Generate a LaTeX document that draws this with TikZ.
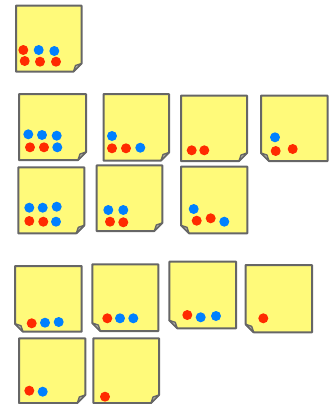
\documentclass[tikz,border=0pt]{standalone}
\definecolor{noteyellow}{HTML}{FFFA7A}
\definecolor{noteborder}{HTML}{666666}
\definecolor{foldgray}{HTML}{B4B4A8}
\definecolor{dotred}{HTML}{FF2A00}
\definecolor{dotblue}{HTML}{0080FF}
\tikzset{
  notebody/.style={fill=noteyellow, draw=noteborder, line width=1.5pt, line join=round},
  notefold/.style={fill=foldgray, draw=noteborder, line width=1pt, line join=round},
  rdot/.style={fill=dotred},
  bdot/.style={fill=dotblue}
}
% sticky note with fold bottom-right: x1 y1 x2 y2
\newcommand\stickyR[4]{%
  \draw[notebody] (#1,#2) -- (#3,#2) -- (#3,{#4-8}) -- ({#3-8},#4) -- (#1,#4) -- cycle;
  \draw[notefold] (#3,{#4-8}) -- ({#3-8},#4) -- ({#3-6},{#4-6}) -- cycle;
}
% sticky note with fold bottom-left
\newcommand\stickyL[4]{%
  \draw[notebody] (#1,#2) -- (#3,#2) -- (#3,#4) -- ({#1+8},#4) -- (#1,{#4-8}) -- cycle;
  \draw[notefold] (#1,{#4-8}) -- ({#1+8},#4) -- ({#1+6},{#4-6}) -- cycle;
}
\newcommand\rd[2]{\fill[rdot] (#1,#2) circle (5);}
\newcommand\bd[2]{\fill[bdot] (#1,#2) circle (5);}
\begin{document}
\begin{tikzpicture}[x=0.75pt, y=-0.75pt]
\useasboundingbox (0,0) rectangle (330,404);
% top single note
\stickyR{16}{5.5}{81.5}{71.5}
\rd{23.3}{50}\bd{38.7}{50}\bd{54.3}{51}
\rd{24.7}{61}\rd{40}{61.7}\rd{56}{61.7}
% group 2, row 1
\stickyR{19}{94}{86}{160}
\bd{28.3}{134.3}\bd{42}{135}\bd{56.7}{135.7}
\rd{30}{147.3}\rd{44}{147.3}\bd{57.3}{147.3}
\stickyR{103.5}{94}{169}{160.5}
\bd{112}{136}
\rd{112}{148.3}\rd{126}{148.3}\bd{140.3}{147.7}
\stickyR{181}{95.7}{247}{161}
\rd{191.7}{150.3}\rd{204.3}{150.3}
\stickyL{261}{95.7}{327.5}{161}
\bd{275}{137.3}
\rd{275.7}{151}\rd{292.7}{149}
% group 2, row 2
\stickyR{18.3}{167.3}{84.3}{233.3}
\bd{29.3}{207.7}\bd{42.7}{207.7}\bd{56.7}{206.7}
\rd{29.3}{221}\rd{43.3}{221.7}\bd{56}{221.7}
\stickyR{96.7}{165.3}{162.3}{231}
\bd{108.3}{210}\bd{123.3}{210}
\rd{110}{221.7}\rd{123.3}{222.3}
\stickyL{181}{166.7}{247.3}{233.3}
\bd{193.7}{209}
\rd{196.7}{220.7}\rd{210.7}{218.3}\bd{224.3}{221.7}
% group 3, row 1
\stickyL{15}{266}{81.7}{331.7}
\rd{31.7}{323.3}\bd{45}{322.7}\bd{58.7}{322}
\stickyL{92.3}{264.3}{158.3}{331}
\rd{107.3}{318.3}\bd{120}{318.3}\bd{133.3}{318.3}
\stickyL{169.3}{261.7}{236}{328.3}
\rd{187.3}{315}\bd{200.7}{317.3}\bd{216}{316}
\stickyL{245.7}{265}{312}{332.3}
\rd{263.3}{318.3}
% group 3, row 2
\stickyR{19}{338.3}{85.3}{403}
\rd{29.3}{390.7}\bd{42.7}{391.7}
\stickyR{93.3}{338.3}{159}{403}
\rd{105}{396.7}
\end{tikzpicture}
\end{document}
